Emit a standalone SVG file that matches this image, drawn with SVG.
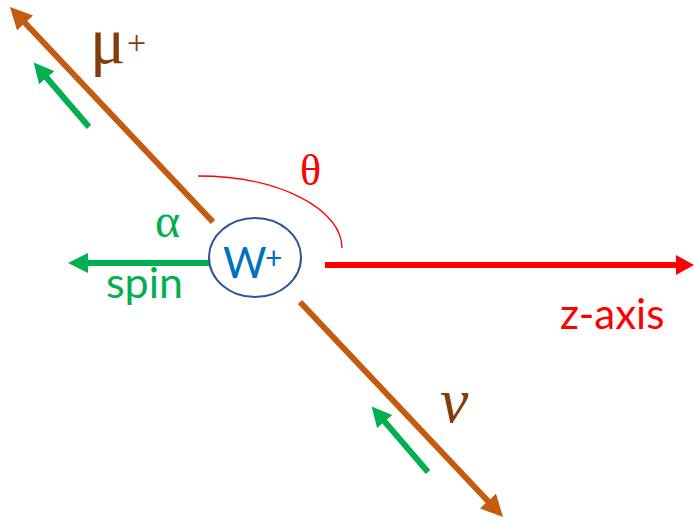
<svg xmlns="http://www.w3.org/2000/svg" width="694" height="520" viewBox="0 0 694 520">
<defs>
<style>
.brown{stroke:#C55A11;stroke-width:6;fill:none}
.green{stroke:#00B050;stroke-width:6;fill:none}
.red{stroke:#FF0000;stroke-width:6;fill:none}
.sans{font-family:Lato,"Liberation Sans",sans-serif}
.serif{font-family:"Liberation Serif","DejaVu Serif",serif}
</style>
<marker id="ahB" markerUnits="userSpaceOnUse" viewBox="0 0 22 22" markerWidth="22" markerHeight="22" refX="2" refY="11" orient="auto"><path d="M0,0 L22,11 L0,22 z" fill="#C55A11"/></marker>
<marker id="ahG" markerUnits="userSpaceOnUse" viewBox="0 0 20 20" markerWidth="20" markerHeight="20" refX="2" refY="10" orient="auto"><path d="M0,0 L20,10 L0,20 z" fill="#00B050"/></marker>
<marker id="ahR" markerUnits="userSpaceOnUse" viewBox="0 0 18 20" markerWidth="18" markerHeight="20" refX="1" refY="10" orient="auto"><path d="M0,0 L18,10 L0,20 z" fill="#FF0000"/></marker>
</defs>
<rect width="694" height="520" fill="#fff"/>
<g id="connectors">
<line id="mu-line" class="brown" x1="213" y1="222" x2="23.7" y2="21.5" marker-end="url(#ahB)"/>
<line id="nu-line" class="brown" x1="300" y1="302" x2="489.3" y2="502.5" marker-end="url(#ahB)"/>
<line id="spin-mu" class="green" x1="89" y1="127" x2="45.4" y2="76.2" marker-end="url(#ahG)"/>
<line id="spin-nu" class="green" x1="428" y1="472" x2="383.4" y2="420.1" marker-end="url(#ahG)"/>
<line id="spin-w" class="green" x1="210" y1="263" x2="86" y2="263" marker-end="url(#ahG)"/>
<line id="z-axis" class="red" x1="325" y1="265" x2="677" y2="265" marker-end="url(#ahR)"/>
<path id="theta-arc" d="M198,176 A144,72 0 0 1 342,248" fill="none" stroke="#FF0000" stroke-width="1.3"/>
</g>
<g id="w-node">
<ellipse cx="255" cy="257.5" rx="46" ry="39.5" fill="#fff" stroke="#2F5597" stroke-width="2"/>
<text class="sans" x="223" y="278" font-size="42" fill="#0070C0">W</text>
<text class="sans" x="265" y="269" font-size="30" fill="#0070C0">+</text>
</g>
<g id="labels">
<text class="serif" x="90" y="63" font-size="66" fill="#843C0C">μ</text>
<text class="serif" x="127" y="54" font-size="34" fill="#843C0C">+</text>
<text class="serif" x="300" y="185" font-size="44" fill="#FF0000">θ</text>
<text class="serif" x="155" y="237" font-size="48" fill="#00B050">α</text>
<text class="sans" x="106" y="298" font-size="43" fill="#00B050">spin</text>
<text class="sans" x="560" y="329" font-size="42" fill="#FF0000">z-axis</text>
<text class="serif" x="440" y="422" font-size="64" font-style="italic" fill="#843C0C">ν</text>
</g>
</svg>
